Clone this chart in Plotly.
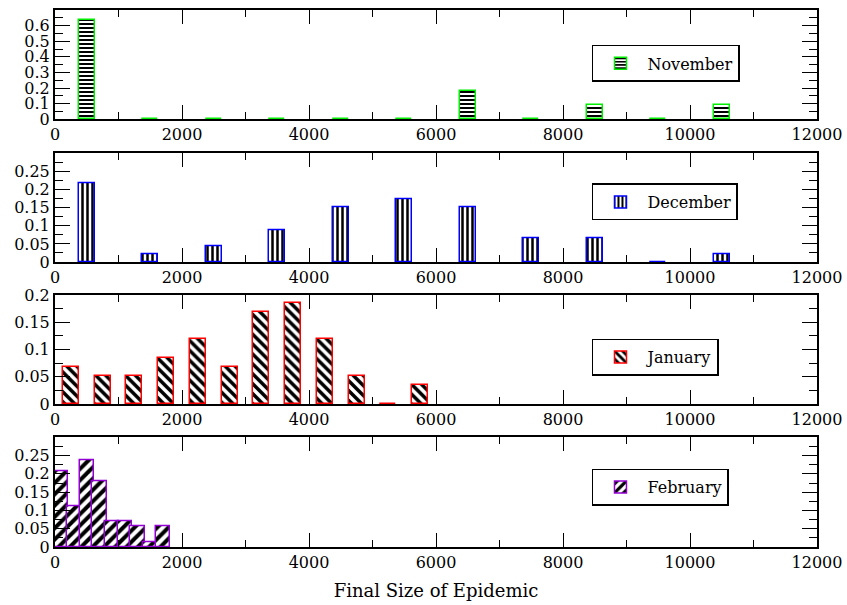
import plotly.graph_objects as go

# ---------------- data ----------------
nov_x = [500, 1500, 2500, 3500, 4500, 5500, 6500, 7500, 8500, 9500, 10500]
nov_y = [0.636, 0, 0, 0, 0, 0, 0.182, 0, 0.091, 0, 0.091]

dec_x = [500, 1500, 2500, 3500, 4500, 5500, 6500, 7500, 8500, 9500, 10500]
dec_y = [0.217, 0.022, 0.043, 0.087, 0.152, 0.174, 0.152, 0.065, 0.065, 0.0, 0.022]

jan_x = [250, 750, 1250, 1750, 2250, 2750, 3250, 3750, 4250, 4750, 5250, 5750]
jan_y = [0.068, 0.051, 0.051, 0.085, 0.119, 0.068, 0.169, 0.186, 0.119, 0.051, 0.0, 0.034]

feb_x = [100, 300, 500, 700, 900, 1100, 1300, 1500, 1700]
feb_y = [0.208, 0.111, 0.236, 0.181, 0.069, 0.069, 0.056, 0.014, 0.056]

months = ["November", "December", "January", "February"]
x_title = "Final Size of Epidemic"
x_tickvals = [0, 2000, 4000, 6000, 8000, 10000, 12000]
x_ticktext = ["0", "2000", "4000", "6000", "8000", "10000", "12000"]

FONT = "DejaVu Serif"

series = [
    (nov_x, nov_y, months[0], "#00ee00", "-", 4, 250),
    (dec_x, dec_y, months[1], "#0000ff", "|", 5, 250),
    (jan_x, jan_y, months[2], "#ff0000", "\\", 7, 250),
    (feb_x, feb_y, months[3], "#9400d3", "/", 8, 225),
]

domains = [[0.7965, 1.0], [0.5307, 0.7331], [0.2663, 0.4693], [0.0, 0.2043]]
yranges = [[0, 0.7], [0, 0.3], [0, 0.2], [0, 0.3]]
ytickvals = [
    [0, 0.1, 0.2, 0.3, 0.4, 0.5, 0.6],
    [0, 0.05, 0.1, 0.15, 0.2, 0.25],
    [0, 0.05, 0.1, 0.15, 0.2],
    [0, 0.05, 0.1, 0.15, 0.2, 0.25],
]
ytickdeltas = [0.05, 0.025, 0.025, 0.025]
legend_y = [0.9005, 0.6425, 0.3538, 0.1117]

fig = go.Figure()
layout = dict(
    width=847, height=605,
    margin=dict(l=55, r=30, t=10, b=58, autoexpand=False),
    paper_bgcolor="white", plot_bgcolor="white",
    font=dict(family=FONT, size=16, color="black"),
    bargap=0,
)

for i, (xs, ys, name, col, shp, psize, w) in enumerate(series):
    n = i + 1
    xa = "x" if n == 1 else f"x{n}"
    ya = "y" if n == 1 else f"y{n}"
    lg = "legend" if n == 1 else f"legend{n}"
    fig.add_trace(go.Bar(
        x=xs, y=ys, width=w, name=name,
        xaxis=xa, yaxis=ya, legend=lg, showlegend=True,
        marker=dict(
            color="white",
            line=dict(color=col, width=1.5),
            pattern=dict(shape=shp, fgcolor="black", bgcolor="white",
                         size=psize, solidity=0.5, fillmode="replace"),
        ),
    ))
    xkey = "xaxis" if n == 1 else f"xaxis{n}"
    ykey = "yaxis" if n == 1 else f"yaxis{n}"
    layout[xkey] = dict(
        domain=[0, 1], anchor=ya, range=[0, 12000],
        tickmode="array", tickvals=x_tickvals, ticktext=x_ticktext,
        ticks="inside", ticklen=14, tickwidth=1.2, tickcolor="black",
        minor=dict(dtick=1000, tick0=0, ticks="inside", ticklen=7, tickwidth=1.2, tickcolor="black"),
        showline=True, linecolor="black", linewidth=2, mirror="allticks",
        showgrid=False, zeroline=False, automargin=False,
        tickfont=dict(family=FONT, size=16, color="black"),
    )
    layout[ykey] = dict(
        domain=domains[i], anchor=xa, range=yranges[i],
        tickmode="array", tickvals=ytickvals[i],
        ticks="inside", ticklen=15, tickwidth=1.2, tickcolor="black",
        minor=dict(dtick=ytickdeltas[i], tick0=0, ticks="inside", ticklen=8, tickwidth=1.2, tickcolor="black"),
        showline=True, linecolor="black", linewidth=2, mirror="allticks",
        showgrid=False, zeroline=False, automargin=False,
        tickfont=dict(family=FONT, size=16, color="black"),
    )
    layout[lg] = dict(
        x=0.7047, xanchor="left", y=legend_y[i], yanchor="middle",
        bgcolor="white", bordercolor="black", borderwidth=1.5,
        font=dict(family=FONT, size=16, color="black"),
        itemwidth=44, tracegroupgap=0,
    )

layout["xaxis4"]["title"] = dict(text=x_title, font=dict(family=FONT, size=18, color="black"), standoff=13)

fig.update_layout(**layout)
fig.write_html("out.html")
